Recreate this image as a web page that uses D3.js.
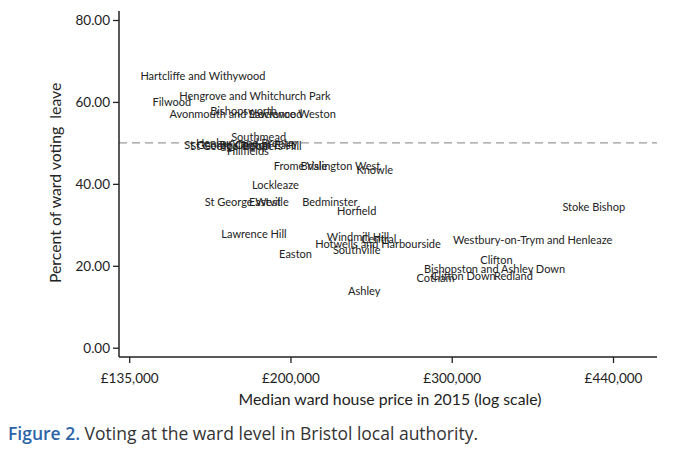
<!DOCTYPE html>
<html>
<head>
<meta charset="utf-8">
<script src="https://cdn.jsdelivr.net/npm/d3@7"></script>
<style>
  html, body { margin: 0; padding: 0; background: #fff; }
  svg { display: block; }
</style>
</head>
<body>
<svg id="chart" width="680" height="451"></svg>
<script>
// ---- data ----
const wards = [
  "Hartcliffe and Withywood", "Filwood", "Hengrove and Whitchurch Park",
  "Avonmouth and Lawrence Weston", "Bishopsworth", "Stockwood", "Southmead",
  "Henbury and Brentry", "St George Central", "St George Troopers Hill",
  "Brislington East", "Hillfields", "Frome Vale", "Brislington West", "Knowle",
  "Lockleaze", "St George West", "Eastville", "Bedminster", "Horfield",
  "Stoke Bishop", "Lawrence Hill", "Windmill Hill", "Central",
  "Hotwells and Harbourside", "Southville", "Easton",
  "Westbury-on-Trym and Henleaze", "Clifton", "Bishopston and Ashley Down",
  "Clifton Down", "Cotham", "Redland", "Ashley"
];
const medianPrice = [
  160000, 148100, 182000,
  181000, 177000, 191500, 183700,
  178400, 169900, 178000,
  183000, 178900, 203800, 225000, 245000,
  191500, 176600, 188400, 219200, 234300,
  421800, 181600, 235000, 247500,
  247000, 234300, 201300,
  362500, 331400, 329800,
  305300, 284900, 345600, 238700
];
const leavePct = [
  66.4, 59.9, 61.5,
  57.0, 57.8, 57.0, 51.4,
  50.0, 49.5, 49.3,
  49.5, 47.9, 44.4, 44.4, 43.4,
  39.7, 35.6, 35.6, 35.6, 33.4,
  34.4, 27.8, 27.1, 26.5,
  25.3, 23.7, 22.9,
  26.3, 21.4, 19.2,
  17.5, 16.9, 17.5, 13.8
];
const xTickLogs = [11.8, 12.2, 12.6, 13.0];
const xTickLabels = ["£135,000", "£200,000", "£300,000", "£440,000"];
const yTicks = [0, 20, 40, 60, 80];
const referenceLine = 50;

// ---- layout ----
const svg = d3.select("#chart");
const axisLeftX = 119, axisBottomY = 357, axisTopY = 11, axisRightX = 657;

const x = d3.scaleLog()
  .domain([Math.exp(11.8), Math.exp(13.0)])
  .range([129.2, 613]);
const y = d3.scaleLinear().domain([0, 80]).range([347.7, 20]);

const font = "Lato, 'Open Sans', sans-serif";

// dashed reference line
svg.append("line")
  .attr("x1", axisLeftX).attr("x2", axisRightX)
  .attr("y1", y(referenceLine)).attr("y2", y(referenceLine))
  .attr("stroke", "#9a9a9a").attr("stroke-width", 1.2)
  .attr("stroke-dasharray", "8,5");

// y axis
const yAxis = d3.axisLeft(y).tickValues(yTicks).tickSize(6).tickPadding(3)
  .tickFormat(d3.format(".2f"));
const gy = svg.append("g").attr("transform", `translate(${axisLeftX},0)`).call(yAxis);
gy.select(".domain").remove();
gy.selectAll(".tick line").attr("stroke", "#222").attr("stroke-width", 1.3);
gy.selectAll(".tick text").attr("font-family", font).attr("font-size", 13.5).attr("fill", "#222");
svg.append("line").attr("x1", axisLeftX).attr("x2", axisLeftX)
  .attr("y1", axisTopY).attr("y2", axisBottomY).attr("stroke", "#222").attr("stroke-width", 1.5);

// x axis
const xAxis = d3.axisBottom(x)
  .tickValues(xTickLogs.map(v => Math.exp(v)))
  .tickFormat((d, i) => xTickLabels[i])
  .tickSize(6).tickPadding(10);
const gx = svg.append("g").attr("transform", `translate(0,${axisBottomY})`).call(xAxis);
gx.select(".domain").remove();
gx.selectAll(".tick line").attr("stroke", "#222").attr("stroke-width", 1.3);
gx.selectAll(".tick text").attr("font-family", font).attr("font-size", 13.5).attr("fill", "#222");
svg.append("line").attr("x1", axisLeftX).attr("x2", axisRightX)
  .attr("y1", axisBottomY).attr("y2", axisBottomY).attr("stroke", "#222").attr("stroke-width", 1.5);

// axis titles
svg.append("text")
  .attr("x", 390).attr("y", 405)
  .attr("text-anchor", "middle")
  .attr("font-family", font).attr("font-size", 15.8).attr("fill", "#222")
  .text("Median ward house price in 2015 (log scale)");
svg.append("text")
  .attr("transform", `translate(61,${y(40) - 1}) rotate(-90)`)
  .attr("text-anchor", "middle")
  .attr("font-family", font).attr("font-size", 15.8).attr("fill", "#222")
  .attr("xml:space", "preserve")
  .text("Percent of ward voting  leave");

// ward labels
svg.append("g").selectAll("text")
  .data(wards)
  .join("text")
  .attr("x", (d, i) => x(medianPrice[i]))
  .attr("y", (d, i) => y(leavePct[i]))
  .attr("dy", "0.35em")
  .attr("text-anchor", "middle")
  .attr("font-family", font).attr("font-size", 11).attr("fill", "#222")
  .text(d => d);

// caption
const cap = svg.append("text")
  .attr("x", 8).attr("y", 440)
  .attr("font-family", "'Open Sans', sans-serif").attr("font-size", 17.5);
cap.append("tspan").attr("fill", "#2d64a8").attr("font-weight", 600).text("Figure 2.");
cap.append("tspan").attr("fill", "#333").text(" Voting at the ward level in Bristol local authority.");
</script>
</body>
</html>
